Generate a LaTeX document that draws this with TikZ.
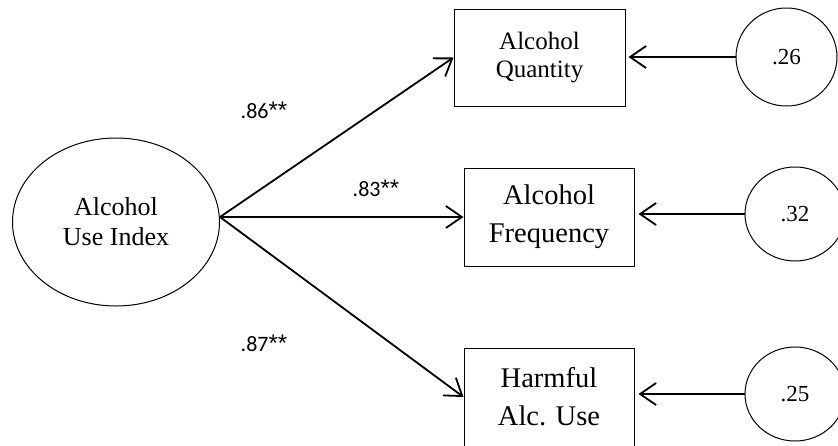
\documentclass[tikz,border=0pt]{standalone}
\usepackage{fontspec}
\setmainfont{Liberation Serif}
\newfontfamily\loadingFont{Carlito}
\newfontfamily\starFont{Liberation Sans}
\usetikzlibrary{arrows.meta,shapes.geometric}
\newcommand{\boxWidth}{170}
\newcommand{\boxHeight}{98}
\newcommand{\errWidth}{100}
\newcommand{\errHeight}{94}
\newcommand{\loadingSize}{\fontsize{22}{26}\selectfont\loadingFont}
\newcommand{\sigStars}{{\starFont\fontsize{24}{26}\selectfont**}}

\begin{document}
\begin{tikzpicture}[x=1pt,y=1pt,line width=1pt,
  obs/.style={draw,rectangle,minimum width=\boxWidth,minimum height=\boxHeight,align=center},
  err/.style={draw,ellipse,minimum width=\errWidth,minimum height=\errHeight,inner sep=0pt,font=\fontsize{23}{26}\selectfont},
  path/.style={-{Straight Barb[length=16pt,width=22pt]},line width=1.8pt}]
\useasboundingbox (0,0) rectangle (838,-445);

\node (useIndex) [draw,ellipse,minimum width=207,minimum height=168,inner sep=0pt,align=center,
  font=\fontsize{26}{30}\selectfont] at (116,-222) {Alcohol\\Use Index};
\coordinate (src) at (220,-217);

\node (quantity) [obs,minimum width=171,minimum height=97,font=\fontsize{25}{28}\selectfont] at (539.5,-57.5) {Alcohol\\Quantity};
\node (frequency) [obs,font=\fontsize{28.5}{38}\selectfont] at (549,-217) {Alcohol\\Frequency};
\node (harmful) [obs,font=\fontsize{28.5}{38}\selectfont] at (549,-397) {Harmful\\Alc. Use};

\node (errQuantity) [err,minimum width=101,minimum height=98] at (786.5,-57) {.26};
\node (errFrequency) [err] at (795,-214) {.32};
\node (errHarmful) [err] at (795,-394) {.25};

\draw [path] (src) -- (quantity.west);
\draw [path] (src) -- (frequency.west);
\draw [path] (src) -- (harmful.west);

\draw [path,shorten >=3pt] (errQuantity.west) -- (errQuantity.west -| quantity.east);
\draw [path,shorten >=4pt] (errFrequency.west) -- (errFrequency.west -| frequency.east);
\draw [path,shorten >=4pt] (errHarmful.west) -- (errHarmful.west -| harmful.east);

%loadings
\node (ldQuantity) at (264,-110) {\loadingSize .86\sigStars};
\node (ldFrequency) at (376,-188) {\loadingSize .83\sigStars};
\node (ldHarmful) at (264,-343) {\loadingSize .87\sigStars};
\end{tikzpicture}
\end{document}
